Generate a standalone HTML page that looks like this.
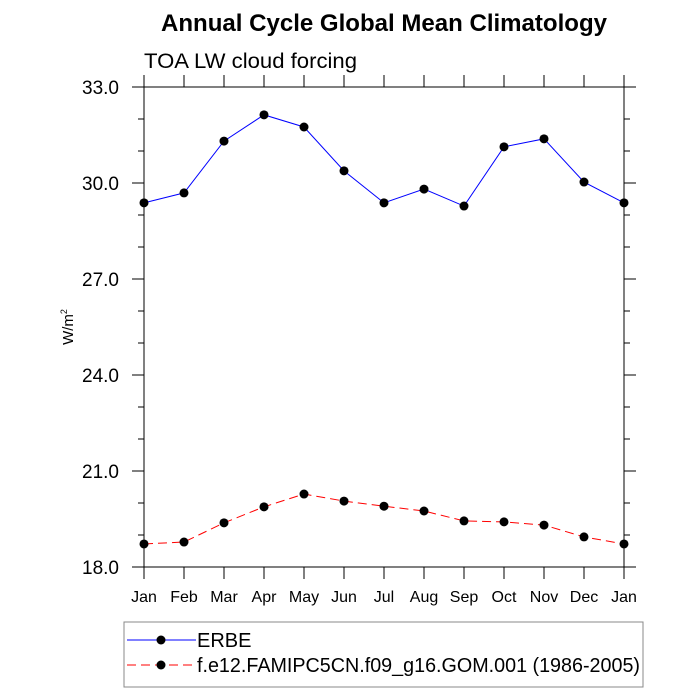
<!DOCTYPE html>
<html><head><meta charset="utf-8"><style>
body{margin:0;background:#fff;}
svg{display:block;font-family:"Liberation Sans",Arial,sans-serif;}
</style></head><body>
<svg id="c" width="700" height="700" viewBox="0 0 700 700">
<text x="384" y="31" text-anchor="middle" font-size="24" font-weight="bold" textLength="446" lengthAdjust="spacingAndGlyphs">Annual Cycle Global Mean Climatology</text>
<text x="144" y="68" font-size="21" textLength="213" lengthAdjust="spacingAndGlyphs">TOA LW cloud forcing</text>
<text transform="translate(73,327) rotate(-90)" text-anchor="middle" font-size="15">W/m<tspan dy="-6" font-size="9">2</tspan></text>
<g id="axes"></g>
<g id="series"></g>
<g>
<rect x="124" y="622" width="519" height="65" fill="#fff" stroke="#888" stroke-width="1"/>
<g>
<line x1="127" y1="640" x2="196" y2="640" stroke="#0000ff" stroke-width="1"/>
<circle cx="161" cy="640" r="4.5" fill="#000"/>
<text x="197" y="647" font-size="20">ERBE</text></g>
<g>
<line x1="127" y1="665" x2="196" y2="665" stroke="#ff0000" stroke-width="1" stroke-dasharray="9,5"/>
<circle cx="161" cy="665" r="4.5" fill="#000"/>
<text x="197" y="672" font-size="20" textLength="443" lengthAdjust="spacingAndGlyphs">f.e12.FAMIPC5CN.f09_g16.GOM.001 (1986-2005)</text></g>
</g>
</svg>
<script>
const months=["Jan","Feb","Mar","Apr","May","Jun","Jul","Aug","Sep","Oct","Nov","Dec","Jan"];
const erbe=[29.38,29.69,31.31,32.13,31.75,30.38,29.38,29.81,29.28,31.13,31.38,30.03,29.38];
const model=[18.72,18.78,19.38,19.88,20.28,20.06,19.9,19.75,19.44,19.41,19.31,18.94,18.72];
const yTicks=["18.0","21.0","24.0","27.0","30.0","33.0"];
const L=144,R=624,T=87,B=567,ymin=18,ymax=33;
const xs=i=>L+(R-L)*i/(months.length-1);
const ys=v=>B-(v-ymin)/(ymax-ymin)*(B-T);
const NS="http://www.w3.org/2000/svg";
function mk(tag,attrs,parent){const e=document.createElementNS(NS,tag);for(const k in attrs)e.setAttribute(k,attrs[k]);parent.appendChild(e);return e;}
const ax=document.getElementById('axes');
const fr=mk('rect',{x:L,y:T,width:R-L,height:B-T,fill:'none',stroke:'#000','stroke-width':1},ax);


mk('line',{x1:L-12,y1:T,x2:R+12,y2:T,stroke:'#000'},ax);
mk('line',{x1:L-12,y1:B,x2:R+12,y2:B,stroke:'#000'},ax);
months.forEach((m,i)=>{
  const x=xs(i);
  mk('line',{x1:x,y1:B,x2:x,y2:B+12,stroke:'#000'},ax);
  mk('line',{x1:x,y1:T,x2:x,y2:T-12,stroke:'#000'},ax);
  const t=mk('text',{x:x,y:B+35,'text-anchor':'middle','font-size':16},ax);
  t.textContent=m;
  
  
});
for(let v=ymin;v<=ymax;v+=1){
  const y=ys(v),major=((v-ymin)%3===0),len=major?12:6;
  mk('line',{x1:L,y1:y,x2:L-len,y2:y,stroke:'#000'},ax);
  mk('line',{x1:R,y1:y,x2:R+len,y2:y,stroke:'#000'},ax);
}
yTicks.forEach(s=>{
  const t=mk('text',{x:119,y:ys(parseFloat(s))+7,'text-anchor':'end','font-size':19},ax);
  t.textContent=s;
  
  
});
const sg=document.getElementById('series');
function series(vals,color,dash,name){
  const g=mk('g',{},sg);
  
  
  const p=mk('polyline',{points:vals.map((v,i)=>xs(i)+','+ys(v)).join(' '),fill:'none',stroke:color,'stroke-width':1},g);
  if(dash)p.setAttribute('stroke-dasharray',dash);
  vals.forEach((v,i)=>{
    const c=mk('circle',{cx:xs(i),cy:ys(v),r:4.5,fill:'#000'},g);
    
    
  });
}
series(erbe,'#0000ff',null,'erbe-series');
series(model,'#ff0000','9,5','model-series');
</script>
</body></html>
